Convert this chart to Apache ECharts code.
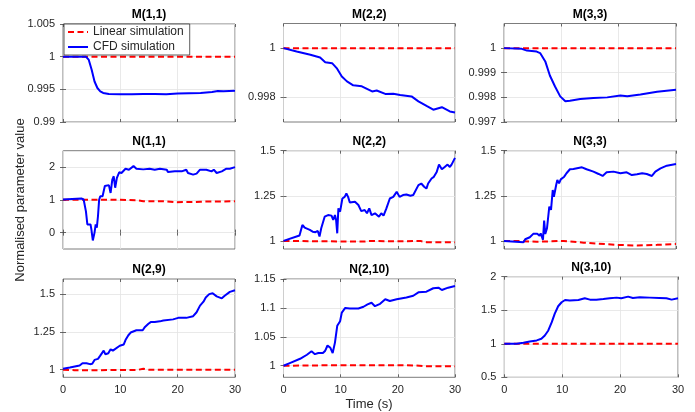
<!DOCTYPE html>
<html><head><meta charset="utf-8">
<script src="https://cdn.jsdelivr.net/npm/echarts@6/dist/echarts.min.js"></script>
<style>html,body{margin:0;padding:0;background:#fff}#c{width:695px;height:412px}</style>
</head><body><div id="c"></div><script>
// ---------- data ----------
const X_TICKS = [0, 10, 20, 30];

const M11_T   = [0,4,4.5,5,5.5,6,6.5,7,8,10,12,14,16,18,20,22,24,26,27,28,29,30];
const M11_CFD = [1,1,0.9995,0.998,0.9962,0.9952,0.9947,0.99445,0.9943,0.99425,0.99425,0.9943,0.9943,0.99425,0.99435,0.9944,0.99445,0.9946,0.99475,0.9947,0.99475,0.9948];
const M11_LIN_T = [0,30];
const M11_LIN   = [1,1];
const M11_TICKS = [0.99,0.995,1,1.005];

const M22_T   = [0,2.3,4.7,6.4,7.3,8.5,9.3,10.2,11.1,12.2,13.7,15.5,16.3,17.8,19.2,20.4,22.4,23.6,25.1,26.2,27.7,29.1,30];
const M22_CFD = [1,0.99986,0.99973,0.99962,0.99943,0.99939,0.99919,0.99885,0.99865,0.99849,0.99845,0.99824,0.99828,0.99814,0.99815,0.9981,0.99804,0.99784,0.99764,0.9975,0.9976,0.99743,0.99739];
const M22_LIN_T = [0,30];
const M22_LIN   = [1,1];
const M22_TICKS = [0.998,1];

const M33_T   = [0,3.1,4.0,5.7,6.3,7.2,8.0,8.9,9.8,10.7,11.5,13.3,15.6,18,20.3,21.5,23.8,26.7,30];
const M33_CFD = [1,0.99997,0.9999,0.99986,0.9998,0.99946,0.99889,0.99844,0.99804,0.99784,0.99786,0.99793,0.99797,0.998,0.99808,0.99805,0.99812,0.99823,0.99831];
const M33_LIN_T = [0,30];
const M33_LIN   = [1,1];
const M33_TICKS = [0.997,0.998,0.999,1];

const N11_T   = [0,3.2,3.6,4.0,4.25,4.5,4.8,4.95,5.2,5.5,5.7,5.9,6.1,6.3,6.5,6.9,7.3,8.0,8.3,8.6,8.85,9.1,9.4,9.8,10.2,10.5,10.9,11.5,12.3,12.8,14.0,15.1,16.0,16.9,18.1,18.3,19.5,20.7,21.5,21.8,22.7,23.3,23.9,25.0,25.9,26.3,26.8,27.7,28.5,29.1,30];
const N11_CFD = [1.01,1.04,1.01,0.65,0.25,0.2,0.25,0.1,-0.24,0.0,0.25,0.15,0.5,1.0,1.11,1.11,1.42,1.45,1.21,1.62,1.72,1.37,1.67,1.84,1.82,1.79,1.95,1.92,2.03,1.95,1.93,1.95,1.92,1.95,1.92,1.85,1.87,1.87,1.92,1.82,1.77,1.8,1.92,1.92,1.87,1.92,1.82,1.87,1.95,1.95,2.0];
const N11_LIN_T = [0,5,10,13,14,18,19.5,23,24,30];
const N11_LIN   = [1,1,1,0.99,0.96,0.955,0.93,0.935,0.945,0.955];
const N11_TICKS = [0,1,2];

const N22_T   = [0,2.8,3.3,3.7,4.6,5.1,5.6,6.0,6.3,6.6,6.9,7.2,7.8,8.4,8.7,9.0,9.2,9.4,9.6,9.9,10.3,10.7,11.0,11.3,11.6,12.5,13.1,13.6,14.2,14.6,15.0,15.4,16.0,16.7,17.1,17.5,18.0,18.6,19.2,19.8,20.3,20.9,21.5,22.2,22.7,23.0,23.6,24.1,24.6,25.0,25.3,25.9,26.3,26.8,27.2,27.7,28.2,28.7,29.1,29.4,29.7,30];
const N22_CFD = [1.0,1.03,1.088,1.074,1.061,1.051,1.048,1.055,1.024,1.07,1.079,1.134,1.143,1.14,1.116,1.143,1.116,1.042,1.18,1.162,1.235,1.244,1.263,1.244,1.213,1.217,1.199,1.165,1.171,1.153,1.18,1.143,1.153,1.134,1.153,1.14,1.18,1.235,1.244,1.272,1.244,1.254,1.257,1.25,1.254,1.244,1.309,1.318,1.3,1.29,1.318,1.346,1.355,1.382,1.423,1.397,1.41,1.423,1.41,1.423,1.428,1.46];
const N22_LIN_T = [0,5,10,14,15,20,24,25,27,30];
const N22_LIN   = [1.0,0.998,0.997,0.996,0.999,0.998,0.999,0.993,0.992,0.993];
const N22_TICKS = [1,1.25,1.5];

const N33_T   = [0,3.4,3.7,4.5,5.1,5.8,6.2,6.4,6.8,7.0,7.2,7.5,7.7,7.9,8.2,8.5,8.7,9.1,9.3,9.6,9.9,10.5,10.9,11.5,12.1,13.6,14.4,15.6,16.5,17.2,17.9,19.1,20.3,21.4,22.3,23.2,24.1,24.9,25.8,26.4,27.3,28.4,30];
const N33_CFD = [1.0,0.993,1.009,1.02,1.039,1.039,1.028,1.042,1.006,1.113,1.039,1.07,1.079,1.19,1.172,1.282,1.245,1.31,1.338,1.319,1.341,1.356,1.375,1.397,1.399,1.408,1.397,1.384,1.371,1.36,1.38,1.384,1.375,1.38,1.365,1.369,1.375,1.371,1.36,1.384,1.402,1.417,1.426];
const N33_LIN_T = [0,2.2,5.7,10.4,13.9,19.7,23.2,26.7,30];
const N33_LIN   = [1.0,1.0,0.995,1.0,0.99,0.978,0.974,0.978,0.983];
const N33_TICKS = [1,1.25,1.5];

const N29_T   = [0,1.2,2.9,3.4,4.1,4.7,5.1,5.5,6.1,6.5,6.8,7.1,7.4,7.9,8.3,8.7,9.0,9.9,10.6,10.9,11.4,11.8,12.1,12.8,13.9,14.3,14.9,15.3,16,16.9,17.5,17.8,19.2,20.1,21.5,22.7,23.3,23.9,24.5,24.9,25.5,26.1,26.8,27.7,28.2,29.1,30];
const N29_CFD = [1.007,1.015,1.028,1.043,1.043,1.037,1.039,1.065,1.072,1.093,1.098,1.126,1.102,1.109,1.135,1.126,1.135,1.159,1.167,1.196,1.228,1.246,1.254,1.261,1.261,1.283,1.304,1.315,1.315,1.32,1.326,1.333,1.333,1.343,1.343,1.354,1.38,1.424,1.45,1.478,1.5,1.506,1.485,1.472,1.489,1.515,1.526];
const N29_LIN_T = [0,2,5,10,13,14,15,20,25,30];
const N29_LIN   = [1.0,0.997,0.997,0.998,0.999,1.006,1.0,1.0,1.0,1.0];
const N29_TICKS = [1,1.25,1.5];

const N210_T   = [0,1.2,2.9,4.1,4.9,5.5,6.1,6.9,7.3,7.7,8.2,8.6,9.0,9.4,9.9,10.2,10.8,11.6,13.1,14.0,14.7,15.4,16.0,16.9,17.8,18.6,19.8,21.5,22.7,23.6,25.0,26.2,27.1,27.7,28.8,30];
const N210_CFD = [1.0,1.005,1.012,1.019,1.025,1.02,1.022,1.022,1.026,1.035,1.031,1.022,1.04,1.069,1.077,1.092,1.1,1.099,1.099,1.102,1.106,1.109,1.103,1.107,1.115,1.112,1.115,1.118,1.121,1.127,1.128,1.134,1.135,1.131,1.135,1.138];
const N210_LIN_T = [0,5,10,15,20,23,25,30];
const N210_LIN   = [1.0,1.0005,1.001,1.001,1.001,1.0005,0.999,0.9993];
const N210_TICKS = [1,1.05,1.1,1.15];

const N310_T   = [0,2.1,3.3,4.4,5.6,6.4,7.0,7.6,8.2,8.7,9.3,9.9,10.5,11.3,12.8,13.9,14.8,15.9,17.1,18.2,19.4,20.2,21.4,22.2,23.4,25.1,26.8,28,28.9,30];
const N310_CFD = [1.0,1.0,1.015,1.035,1.05,1.074,1.124,1.198,1.322,1.446,1.559,1.619,1.653,1.644,1.653,1.678,1.658,1.658,1.668,1.678,1.688,1.678,1.703,1.683,1.693,1.688,1.683,1.678,1.658,1.678];
const N310_LIN_T = [0,30];
const N310_LIN   = [1,1];
const N310_TICKS = [0.5,1,1.5,2];

// ---------- layout ----------
const FONT = '"Liberation Sans", Arial, Helvetica, sans-serif';
const TXT = '#262626';
const panels = [
  {title:'M(1,1)', t:M11_T, cfd:M11_CFD, lt:M11_LIN_T, lin:M11_LIN, ticks:M11_TICKS, min:0.99, max:1.005, box:[63,24,235,122], xl:false},
  {title:'M(2,2)', t:M22_T, cfd:M22_CFD, lt:M22_LIN_T, lin:M22_LIN, ticks:M22_TICKS, min:0.997, max:1.001, box:[283.5,23.5,455,122], xl:false},
  {title:'M(3,3)', t:M33_T, cfd:M33_CFD, lt:M33_LIN_T, lin:M33_LIN, ticks:M33_TICKS, min:0.997, max:1.001, box:[504,23.5,676,122], xl:false},
  {title:'N(1,1)', t:N11_T, cfd:N11_CFD, lt:N11_LIN_T, lin:N11_LIN, ticks:N11_TICKS, min:-0.5, max:2.5, box:[63,150.7,235,249], xl:false},
  {title:'N(2,2)', t:N22_T, cfd:N22_CFD, lt:N22_LIN_T, lin:N22_LIN, ticks:N22_TICKS, min:0.955, max:1.5, box:[283.5,150.7,455,249], xl:false},
  {title:'N(3,3)', t:N33_T, cfd:N33_CFD, lt:N33_LIN_T, lin:N33_LIN, ticks:N33_TICKS, min:0.955, max:1.5, box:[504,150.7,676,249], xl:false},
  {title:'N(2,9)', t:N29_T, cfd:N29_CFD, lt:N29_LIN_T, lin:N29_LIN, ticks:N29_TICKS, min:0.95, max:1.6, box:[63,279,235,377.3], xl:true},
  {title:'N(2,10)', t:N210_T, cfd:N210_CFD, lt:N210_LIN_T, lin:N210_LIN, ticks:N210_TICKS, min:0.98, max:1.15, box:[283.5,279,455,377.3], xl:true},
  {title:'N(3,10)', t:N310_T, cfd:N310_CFD, lt:N310_LIN_T, lin:N310_LIN, ticks:N310_TICKS, min:0.5, max:2, box:[504.3,276.7,678,377.3], xl:true}
];

const zip = (a, b) => a.map((v, i) => [v, b[i]]);
const fmt = v => String(Number((+v).toFixed(6)));

const grid = [], xAxis = [], yAxis = [], series = [], graphic = [];
panels.forEach((p, i) => {
  const [l, t, r, b] = p.box;
  grid.push({left:l, top:t, width:r-l, height:b-t, show:true, borderColor:'#5a5a5a', borderWidth:0.8, backgroundColor:'#fff', containLabel:false, outerBoundsMode:'none'});
  const xBase = {type:'value', gridIndex:i, min:0, max:30, interval:10};
  xAxis.push(Object.assign({}, xBase, {
    position:'bottom',
    axisLine:{show:false},
    axisTick:{show:true, inside:true, length:3, lineStyle:{color:'#444', width:0.8}},
    axisLabel:{show:p.xl, fontSize:11, color:TXT, fontFamily:FONT, margin:7, formatter:fmt},
    splitLine:{show:true, lineStyle:{color:'#e3e3e3', width:0.8}}
  }));
  xAxis.push(Object.assign({}, xBase, {
    position:'top',
    axisLine:{show:false},
    axisTick:{show:true, inside:true, length:3, lineStyle:{color:'#444', width:0.8}},
    axisLabel:{show:false}, splitLine:{show:false}
  }));
  const yBase = {type:'value', gridIndex:i, min:p.min, max:p.max};
  yAxis.push(Object.assign({}, yBase, {
    position:'left',
    axisLine:{show:false},
    axisTick:{show:true, inside:true, length:3, customValues:p.ticks, lineStyle:{color:'#444', width:0.8}},
    axisLabel:{show:true, fontSize:11, color:TXT, fontFamily:FONT, margin:8, customValues:p.ticks, formatter:fmt},
    splitLine:{show:true, lineStyle:{color:'#e3e3e3', width:0.8}}
  }));
  yAxis.push(Object.assign({}, yBase, {
    position:'right',
    axisLine:{show:false},
    axisTick:{show:true, inside:true, length:3, customValues:p.ticks, lineStyle:{color:'#444', width:0.8}},
    axisLabel:{show:false}, splitLine:{show:false}
  }));
  series.push({
    name:'Linear simulation', type:'line', xAxisIndex:2*i, yAxisIndex:2*i,
    data:zip(p.lt, p.lin), symbol:'none', silent:true, animation:false,
    lineStyle:{color:'#ff0000', width:2, type:[6,3.5]}, itemStyle:{color:'#ff0000'}, z:2
  });
  series.push({
    name:'CFD simulation', type:'line', xAxisIndex:2*i, yAxisIndex:2*i,
    data:zip(p.t, p.cfd), symbol:'none', silent:true, animation:false,
    lineStyle:{color:'#0000ff', width:2}, itemStyle:{color:'#0000ff'}, z:3
  });
  graphic.push({type:'text', x:(l+r)/2, y:t-9, silent:true,
    style:{text:p.title, fill:'#000', fontSize:12, fontWeight:'bold', fontFamily:FONT, align:'center', verticalAlign:'middle'}});
});
graphic.push({type:'text', x:369, y:404, silent:true,
  style:{text:'Time (s)', fill:TXT, fontSize:13, fontFamily:FONT, align:'center', verticalAlign:'middle'}});
graphic.push({type:'text', x:20, y:200, rotation:Math.PI/2, silent:true,
  style:{text:'Normalised parameter value', fill:TXT, fontSize:13, fontFamily:FONT, align:'center', verticalAlign:'middle'}});

const chart = echarts.init(document.getElementById('c'), null, {renderer:'canvas'});
chart.setOption({
  animation:false,
  backgroundColor:'#fff',
  grid, xAxis, yAxis, series, graphic,
  legend:{
    data:['Linear simulation','CFD simulation'],
    orient:'vertical', left:64, top:24, itemWidth:20, itemHeight:12, itemGap:3,
    padding:[2,6,2,3], backgroundColor:'#fff', borderColor:'#333', borderWidth:0.8,
    itemStyle:{opacity:0},
    textStyle:{fontSize:12, color:TXT, fontFamily:FONT}, selectedMode:false, z:10
  }
});
</script></body></html>
